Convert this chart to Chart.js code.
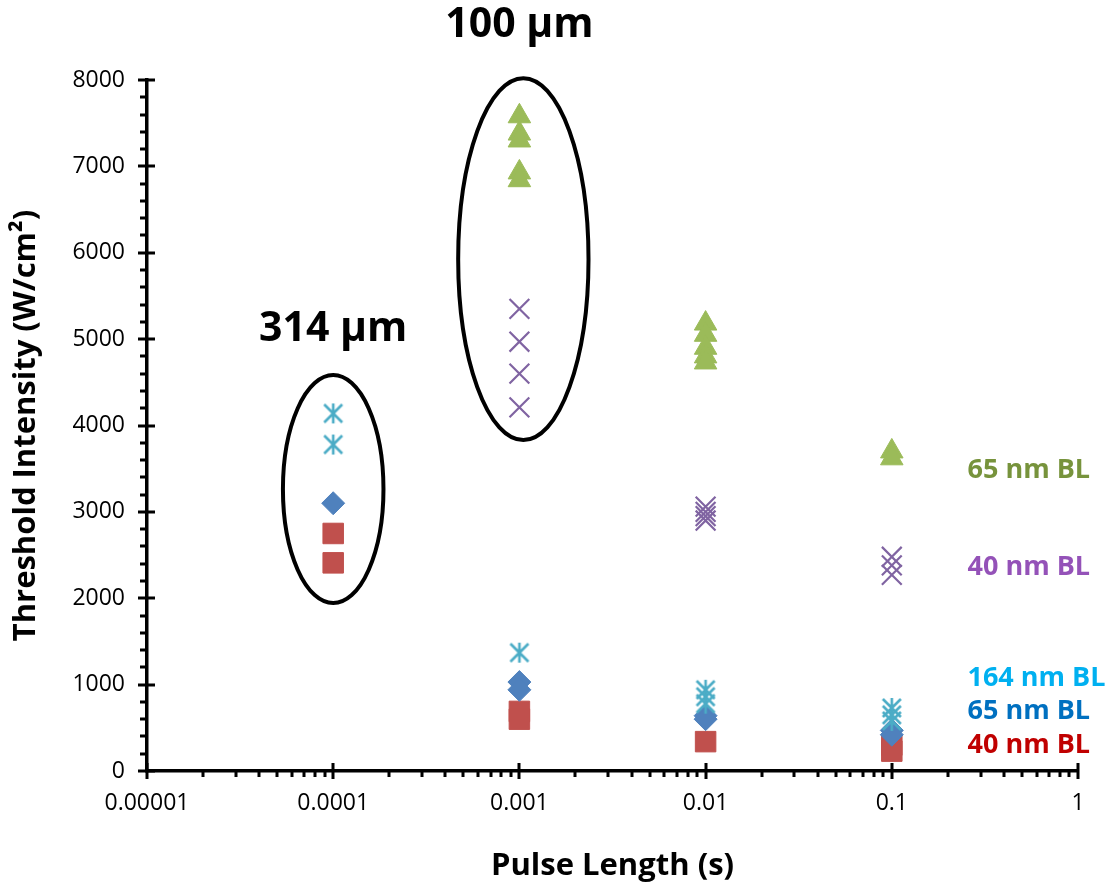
<!DOCTYPE html>
<html><head><meta charset="utf-8">
<script src="https://cdn.jsdelivr.net/npm/chart.js@4"></script>
<style>html,body{margin:0;padding:0;background:#fff}#wrap{width:1107px;height:885px;position:relative}</style>
</head><body><div id="wrap"><canvas id="c" width="1107" height="885"></canvas></div>
<script>
// ---- data ----
const xTickLabels = ["0.00001","0.0001","0.001","0.01","0.1","1"];
const yTicks = [0,1000,2000,3000,4000,5000,6000,7000,8000];

const red40_x  = [0.0001,0.0001,0.001,0.001,0.01,0.1,0.1];
const red40_y  = [2750,2410,690,600,340,300,230];
const blue65_x = [0.0001,0.001,0.001,0.01,0.01,0.1,0.1];
const blue65_y = [3100,1030,940,640,600,470,420];
const cyan164_x = [0.0001,0.0001,0.001,0.01,0.01,0.01,0.1,0.1,0.1];
const cyan164_y = [4140,3780,1370,940,860,780,730,650,580];
const purple40_x = [0.001,0.001,0.001,0.001,0.01,0.01,0.01,0.01,0.1,0.1,0.1];
const purple40_y = [5350,4970,4600,4210,3060,3000,2950,2900,2480,2380,2270];
const green65_x = [0.001,0.001,0.001,0.001,0.001,0.01,0.01,0.01,0.01,0.01,0.1,0.1];
const green65_y = [7580,7380,7300,6930,6840,5180,5050,4900,4800,4730,3700,3620];

const seriesLabels = ["40 nm BL","65 nm BL","164 nm BL","40 nm BL","65 nm BL"];
const groupLabels = ["314 µm","100 µm"];
const groupCenterX = [0.0001, 0.00105];
const groupCenterY = [3264, 5926];
const groupLabelY = [5116, 8634];

function pts(xs, ys){ return xs.map((x,i)=>({x:x, y:ys[i]})); }

// asterisk marker
function asterisk(color){
  const c = document.createElement('canvas'); c.width = 24; c.height = 24;
  const g = c.getContext('2d'); g.strokeStyle = color; g.lineWidth = 2.6; g.lineCap='butt';
  g.beginPath();
  g.moveTo(12,2); g.lineTo(12,22);
  g.moveTo(3,3); g.lineTo(21,21);
  g.moveTo(21,3); g.lineTo(3,21);
  g.stroke();
  return c;
}

const FONT = "'Open Sans', Lato, sans-serif";

const annot = {
  id:'annot',
  afterDatasetsDraw(chart){
    const ctx = chart.ctx, xs = chart.scales.x, ys = chart.scales.y;
    ctx.save();
    // ticks
    ctx.strokeStyle = '#000'; ctx.lineWidth = 3;
    const ax = chart.chartArea.left, ay = chart.chartArea.bottom;
    ctx.beginPath();
    for (let v=0; v<=8000; v+=200){
      const p = Math.round(ys.getPixelForValue(v));
      if (v%1000===0){ ctx.moveTo(ax-9,p); ctx.lineTo(ax+8,p); }
      else { ctx.moveTo(ax-7,p); ctx.lineTo(ax,p); }
    }
    for (let e=-5; e<=0; e++){
      for (let m=1; m<=9; m++){
        const v = m*Math.pow(10,e); if (v>1.0000001) break;
        const p = Math.round(xs.getPixelForValue(v));
        if (m===1){ ctx.moveTo(p,ay-8); ctx.lineTo(p,ay+8); }
        else { ctx.moveTo(p,ay); ctx.lineTo(p,ay+6); }
      }
    }
    ctx.stroke();
    // ellipses
    const ell = [{rxDec:0.27, ryVal:1320},{rxDec:0.35, ryVal:2095}];
    ctx.lineWidth = 4; ctx.strokeStyle = '#000';
    ell.forEach((e,i)=>{
      const cx = xs.getPixelForValue(groupCenterX[i]);
      const cy = ys.getPixelForValue(groupCenterY[i]);
      const rx = xs.getPixelForValue(groupCenterX[i]*Math.pow(10,e.rxDec)) - cx;
      const ry = cy - ys.getPixelForValue(groupCenterY[i]+e.ryVal);
      ctx.beginPath(); ctx.ellipse(cx,cy,rx,ry,0,0,Math.PI*2); ctx.stroke();
    });
    // group labels
    ctx.fillStyle = '#000'; ctx.font = "bold 41px "+FONT; ctx.textAlign='center'; ctx.textBaseline='middle';
    groupLabels.forEach((t,i)=>{
      ctx.fillText(t, xs.getPixelForValue(i===0?0.0001:0.001), ys.getPixelForValue(groupLabelY[i]));
    });
    // series labels
    const labY = [301, 694, 1076, 2361, 3484];
    const labC = ['#C00000','#0070C0','#00B0F0','#9452B8','#77933C'];
    ctx.font = "bold 27px "+FONT; ctx.textAlign='left';
    seriesLabels.forEach((t,i)=>{
      ctx.fillStyle = labC[i];
      ctx.fillText(t, xs.getPixelForValue(0.255), ys.getPixelForValue(labY[i]));
    });
    ctx.restore();
  }
};

new Chart(document.getElementById('c'), {
  type:'scatter',
  data:{ datasets:[
    {label:seriesLabels[4]+' g', data:pts(green65_x,green65_y), pointStyle:'triangle', radius:13, backgroundColor:'#9BBB59', borderColor:'#9BBB59', borderWidth:1},
    {label:seriesLabels[3]+' p', data:pts(purple40_x,purple40_y), pointStyle:'crossRot', radius:14, backgroundColor:'#8064A2', borderColor:'#8064A2', borderWidth:2.2},
    {label:seriesLabels[2], data:pts(cyan164_x,cyan164_y), pointStyle:asterisk('#4BACC6'), radius:12},
    {label:seriesLabels[1], data:pts(blue65_x,blue65_y), pointStyle:'rectRot', radius:11.5, backgroundColor:'#4F81BD', borderColor:'#4F81BD', borderWidth:1},
    {label:seriesLabels[0], data:pts(red40_x,red40_y), pointStyle:'rect', radius:14.5, backgroundColor:'#C0504D', borderColor:'#C0504D', borderWidth:1},
  ]},
  options:{
    responsive:false, animation:false, events:[],
    layout:{padding:{top:80,right:29,left:0,bottom:0}},
    plugins:{legend:{display:false}, tooltip:{enabled:false}},
    scales:{
      x:{ type:'logarithmic', min:0.00001, max:1,
        grid:{display:false}, border:{display:true,color:'#000',width:3.5},
        ticks:{ autoSkip:false, maxRotation:0, padding:11, color:'#000', font:{family:FONT,size:23},
          callback:(v)=>{ const e=Math.log10(v); if (Math.abs(e-Math.round(e))<1e-9) return xTickLabels[Math.round(e)+5]; return null; } },
        afterBuildTicks:(s)=>{ s.ticks = xTickLabels.map(t=>({value:parseFloat(t)})); },
        title:{display:true, text:'Pulse Length (s)', color:'#000', font:{family:FONT,size:31,weight:'bold'}, padding:{top:22,bottom:0}},
        afterFit:(s)=>{ s.height = 114; }
      },
      y:{ min:0, max:8000,
        grid:{display:false}, border:{display:true,color:'#000',width:3.5},
        afterBuildTicks:(s)=>{ s.ticks = yTicks.map(v=>({value:v})); },
        ticks:{ padding:14, color:'#000', font:{family:FONT,size:23}, callback:(v)=>String(v) },
        title:{display:true, text:'Threshold Intensity (W/cm²)', color:'#000', font:{family:FONT,size:31,weight:'bold'}, padding:{top:8,bottom:0}},
        afterFit:(s)=>{ s.width = 147; }
      }
    }
  },
  plugins:[annot]
});
</script></body></html>
